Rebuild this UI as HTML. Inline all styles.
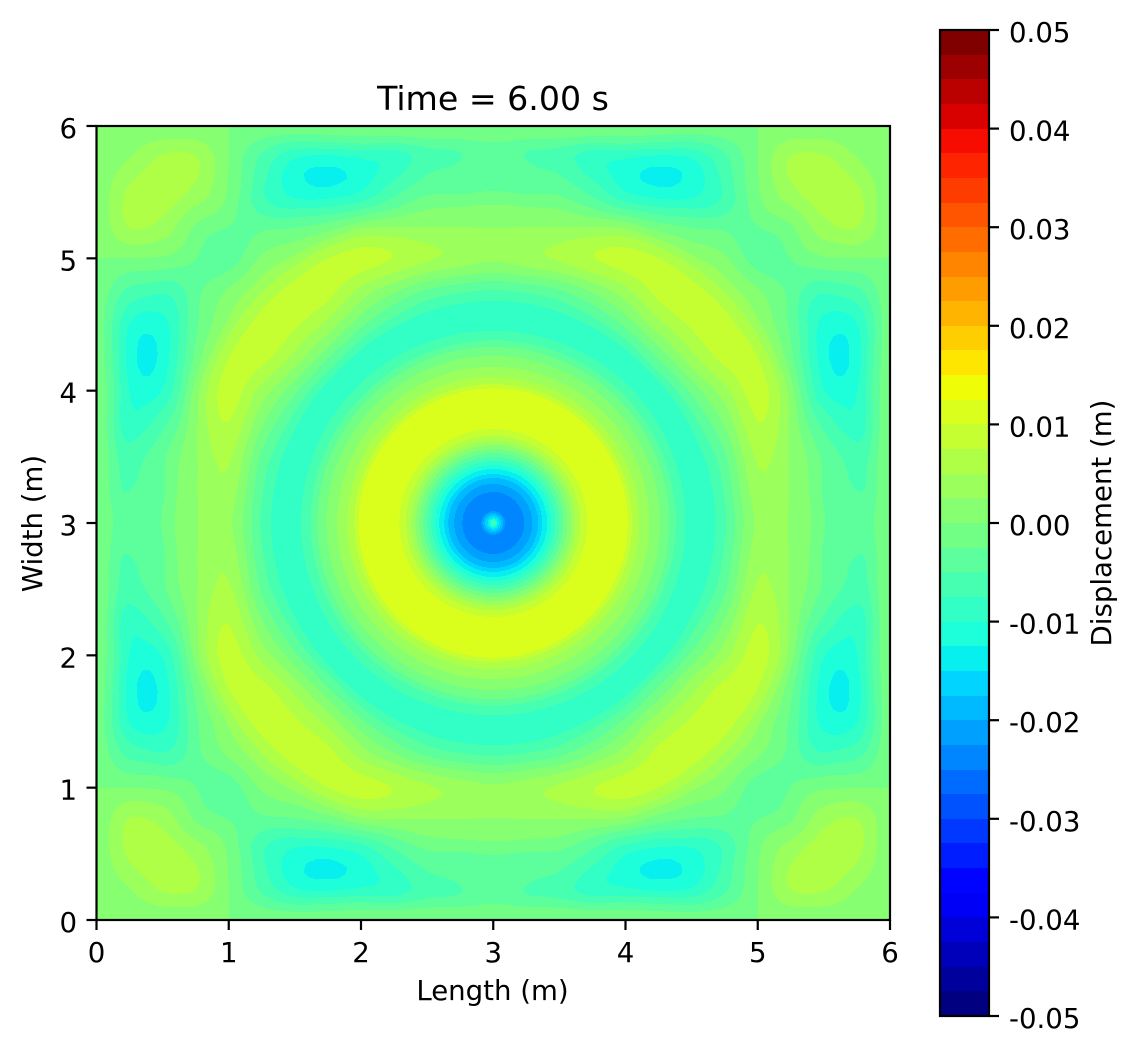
<!DOCTYPE html>
<html>
<head>
<meta charset="utf-8">
<title>Time = 6.00 s</title>
<style>
html,body{margin:0;padding:0;background:#fff;}
svg{display:block;}
text{font-family:"DejaVu Sans","Liberation Sans",sans-serif;fill:#000;}
</style>
</head>
<body>
<svg id="figure" xmlns="http://www.w3.org/2000/svg" width="1139" height="1053" viewBox="0 0 1139 1053">
  <rect x="0" y="0" width="1139" height="1053" fill="#fff"/>
  <g id="bands" shape-rendering="crispEdges"></g>
  <rect x="96.5" y="126" width="793.5" height="794" fill="none" stroke="#000" stroke-width="2.2"/>
  <g id="axisTicks"></g>
  <text x="493" y="110" font-size="33.2" text-anchor="middle">Time = 6.00 s</text>
  <text x="492.5" y="1000" font-size="27.6" text-anchor="middle">Length (m)</text>
  <text transform="translate(42 523.5) rotate(-90)" font-size="27.6" text-anchor="middle">Width (m)</text>
  <g id="colorbar" shape-rendering="crispEdges"></g>
  <rect x="940" y="30" width="49" height="986" fill="none" stroke="#000" stroke-width="2.2"/>
  <g id="cbTicks"></g>
  <text transform="translate(1111 523) rotate(-90)" font-size="27.6" text-anchor="middle">Displacement (m)</text>
</svg>
<script>
// ---- chart data ----
var xTickValues = [0, 1, 2, 3, 4, 5, 6];
var yTickValues = [0, 1, 2, 3, 4, 5, 6];
var colorbarTickValues = [0.05, 0.04, 0.03, 0.02, 0.01, 0.00, -0.01, -0.02, -0.03, -0.04, -0.05];
var colorbarTickLabels = ["0.05", "0.04", "0.03", "0.02", "0.01", "0.00", "-0.01", "-0.02", "-0.03", "-0.04", "-0.05"];
var levelMin = -0.05;
var levelMax = 0.05;
var levelCount = 40;

// Ring displacement (millimetres) by radius from the plate centre (metres)
var radialRadius = [0, 0.015, 0.03, 0.06, 0.09, 0.15, 0.234, 0.295, 0.34, 0.37, 0.408, 0.438, 0.469, 0.5, 0.529, 0.559, 0.59, 0.62, 0.658, 0.71, 0.877, 1.017, 1.05, 1.104, 1.18, 1.262, 1.33, 1.38, 1.455, 1.557, 1.64, 1.69, 1.76, 1.83, 1.90, 1.99, 2.09, 2.25, 2.40, 2.465, 2.54, 2.66, 2.79, 2.88, 3.0, 3.18, 4.3];
var radialDisplacement = [-3, -8, -13, -17.5, -22.5, -24.5, -22.5, -20, -17.5, -15, -12.5, -10, -7.5, -5, -2.5, 0, 2.5, 5, 7.5, 10, 12, 10, 7.5, 5, 2.5, 0, -2.5, -5, -7.5, -9, -7.5, -5, -2.5, 0, 2.5, 5, 7.5, 9.5, 7.5, 5, 2.5, 0, -2.5, -4, -3, 0, 0];

// Deviation from the rings (millimetres) on the lower-left quadrant, every 0.25 m; the plate mirrors about x=3 and y=3
var gridStep = 0.25;
var quadrantDeviation = [
  [0, 0, 0, 0, 0, 0, 0, 0, 0, 0, 0, 0, 0],
  [0, 2.6, 5.5, 5.2, 0, -5.7, -9.3, -8.5, -6.5, -5.8, -3.6, -3.1, -1.8],
  [0, 5.5, 6.5, 4.2, -0.2, -5, -7.2, -9, -9.2, -6.8, -5.5, -6.4, -6.2],
  [0, 5.2, 4.2, 0.1, 0.3, 0, -2.2, -3.6, -4, -5.7, -6.5, -6.7, -6.7],
  [0, 0, -0.2, 0.3, -0.9, 0.3, -0.7, -0.5, -0.4, -0.7, -1.3, -1.6, -2.2],
  [0, -5.7, -5, 0, 0.3, 0, -0.1, 0.1, -1.6, -2.2, -2.6, -2.4, -2.5],
  [0, -9.3, -7.2, -2.2, -0.7, -0.1, 0.1, 0.1, -0.9, -1, -0.8, -0.5, -0.3],
  [0, -8.5, -9, -3.6, -0.5, 0.1, 0.1, 0, -0.3, 0, 0, 0, 0],
  [0, -6.5, -9.2, -4, -0.4, -1.6, -0.9, -0.3, 0, 0, 0, 0, 0],
  [0, -5.8, -6.8, -5.7, -0.7, -2.2, -1, 0, 0, 0, 0, 0, 0],
  [0, -3.6, -5.5, -6.5, -1.3, -2.6, -0.8, 0, 0, 0, 0, 0, 0],
  [0, -3.1, -6.4, -6.7, -1.6, -2.4, -0.5, 0, 0, 0, 0, 0, 0],
  [0, -1.8, -6.2, -6.7, -2.2, -2.5, -0.3, 0, 0, 0, 0, 0, 0]
];

// ---- scales ----
var NS = "http://www.w3.org/2000/svg";
var plotLeft = 96.5, plotRight = 890, plotTop = 126, plotBottom = 920;
var cbLeft = 940, cbRight = 989, cbTop = 30, cbBottom = 1016;
function xScale(v) { return plotLeft + (v / 6) * (plotRight - plotLeft); }
function yScale(v) { return plotBottom - (v / 6) * (plotBottom - plotTop); }
function cbScale(v) { return cbBottom - ((v - levelMin) / (levelMax - levelMin)) * (cbBottom - cbTop); }

function seg(p, t) {
  for (var i = 1; i < p.length; i++) {
    if (t <= p[i][0]) {
      var a = p[i - 1], b = p[i];
      return a[1] + (b[1] - a[1]) * (t - a[0]) / (b[0] - a[0]);
    }
  }
  return p[p.length - 1][1];
}
function jet(t) {
  var r = seg([[0, 0], [0.35, 0], [0.66, 1], [0.89, 1], [1, 0.5]], t);
  var g = seg([[0, 0], [0.125, 0], [0.375, 1], [0.64, 1], [0.91, 0], [1, 0]], t);
  var b = seg([[0, 0.5], [0.11, 1], [0.34, 1], [0.65, 0], [1, 0]], t);
  return "rgb(" + Math.round(r * 255) + "," + Math.round(g * 255) + "," + Math.round(b * 255) + ")";
}

// ---- field ----
function gridAt(i, j) {
  var si = 1, sj = 1;
  if (i < 0) { i = -i; si = -1; }
  if (j < 0) { j = -j; sj = -1; }
  if (i > 12) { i = 24 - i; }
  if (j > 12) { j = 24 - j; }
  return si * sj * quadrantDeviation[j][i];
}
function cubic(p0, p1, p2, p3, t) {
  return 0.5 * (2 * p1 + (p2 - p0) * t + (2 * p0 - 5 * p1 + 4 * p2 - p3) * t * t + (3 * p1 - p0 - 3 * p2 + p3) * t * t * t);
}
function gridValue(x, y) {
  var fx = x / gridStep, fy = y / gridStep;
  var i = Math.min(11, Math.floor(fx)), j = Math.min(11, Math.floor(fy));
  var tx = fx - i, ty = fy - j;
  var rows = [];
  for (var m = -1; m <= 2; m++) {
    rows.push(cubic(gridAt(i - 1, j + m), gridAt(i, j + m), gridAt(i + 1, j + m), gridAt(i + 2, j + m), tx));
  }
  return cubic(rows[0], rows[1], rows[2], rows[3], ty);
}
function radialValue(r) {
  var n = radialRadius.length;
  if (r >= radialRadius[n - 1]) return radialDisplacement[n - 1];
  for (var k = 1; k < n; k++) {
    if (r <= radialRadius[k]) {
      var t = (r - radialRadius[k - 1]) / (radialRadius[k] - radialRadius[k - 1]);
      return radialDisplacement[k - 1] + t * (radialDisplacement[k] - radialDisplacement[k - 1]);
    }
  }
  return 0;
}
function ringValue(r) {
  if (r < 1.7) return radialValue(r);
  // soften the joints of the profile away from the central rings
  return (radialValue(r - 0.05) + radialValue(r) + radialValue(r + 0.05)) / 3;
}
function field(x, y) {
  var qx = Math.min(x, 6 - x), qy = Math.min(y, 6 - y);
  var r = Math.sqrt((3 - qx) * (3 - qx) + (3 - qy) * (3 - qy));
  var ring = ringValue(r);
  if (r <= 1.35) return ring;
  var e = Math.min(1, Math.min(qx, qy) / 0.25);
  var edge = e * e * (3 - 2 * e);
  var w = Math.min(1, (r - 1.35) / 0.25);
  w = w * w * (3 - 2 * w);
  return ring * edge + w * gridValue(qx, qy);
}
function bandOf(mm) {
  var b = Math.floor((mm / 1000 - levelMin) / ((levelMax - levelMin) / levelCount));
  return Math.max(0, Math.min(levelCount - 1, b));
}

// ---- draw contour bands ----
var bandsGroup = document.getElementById("bands");
var bandPaths = [];
for (var b = 0; b < levelCount; b++) bandPaths.push([]);
var x0 = Math.round(plotLeft), x1 = Math.round(plotRight);
var y0 = Math.round(plotTop), y1 = Math.round(plotBottom);
for (var py = y0; py < y1; py++) {
  var dataY = (plotBottom - (py + 0.5)) / (plotBottom - plotTop) * 6;
  var runStart = x0, runBand = -1;
  for (var px = x0; px <= x1; px++) {
    var cur = -2;
    if (px < x1) {
      var dataX = (px + 0.5 - plotLeft) / (plotRight - plotLeft) * 6;
      dataX = Math.max(0, Math.min(6, dataX));
      cur = bandOf(field(dataX, dataY));
    }
    if (cur !== runBand) {
      if (runBand >= 0) {
        bandPaths[runBand].push("M" + runStart + " " + py + "h" + (px - runStart) + "v1h" + (runStart - px) + "z");
      }
      runStart = px;
      runBand = cur;
    }
  }
}
for (var b2 = 0; b2 < levelCount; b2++) {
  if (!bandPaths[b2].length) continue;
  var bandPath = document.createElementNS(NS, "path");
  bandPath.setAttribute("d", bandPaths[b2].join(""));
  bandPath.setAttribute("fill", jet(b2 / (levelCount - 1)));
  
  
  bandsGroup.appendChild(bandPath);
}

// ---- draw ticks ----
function addLine(parent, x1v, y1v, x2v, y2v) {
  var l = document.createElementNS(NS, "line");
  l.setAttribute("x1", x1v);
  l.setAttribute("y1", y1v);
  l.setAttribute("x2", x2v);
  l.setAttribute("y2", y2v);
  l.setAttribute("stroke", "#000");
  l.setAttribute("stroke-width", "2.2");
  parent.appendChild(l);
  return l;
}
function addText(parent, x, y, str, anchor) {
  var t = document.createElementNS(NS, "text");
  t.setAttribute("x", x);
  t.setAttribute("y", y);
  t.setAttribute("font-size", "27.6");
  t.setAttribute("text-anchor", anchor);
  t.textContent = str;
  parent.appendChild(t);
  return t;
}
var axisGroup = document.getElementById("axisTicks");
xTickValues.forEach(function (v) {
  var tick = addLine(axisGroup, xScale(v), plotBottom, xScale(v), plotBottom + 10);
  
  
  var label = addText(axisGroup, xScale(v), 962, String(v), "middle");
  
  
});
yTickValues.forEach(function (v) {
  var tick = addLine(axisGroup, plotLeft - 10, yScale(v), plotLeft, yScale(v));
  
  
  var label = addText(axisGroup, 77, yScale(v) + 12, String(v), "end");
  
  
});

// ---- draw colorbar ----
var cbGroup = document.getElementById("colorbar");
var levelStep = (levelMax - levelMin) / levelCount;
for (var c = 0; c < levelCount; c++) {
  var bandLow = levelMin + c * levelStep;
  var bandHigh = bandLow + levelStep;
  var swatch = document.createElementNS(NS, "rect");
  var swatchTop = Math.round(cbScale(bandHigh));
  var swatchBottom = Math.round(cbScale(bandLow));
  swatch.setAttribute("x", cbLeft);
  swatch.setAttribute("y", swatchTop);
  swatch.setAttribute("width", cbRight - cbLeft);
  swatch.setAttribute("height", swatchBottom - swatchTop);
  swatch.setAttribute("fill", jet(c / (levelCount - 1)));
  
  
  cbGroup.appendChild(swatch);
}
var cbTickGroup = document.getElementById("cbTicks");
colorbarTickValues.forEach(function (v, i) {
  var tick = addLine(cbTickGroup, cbRight, cbScale(v), cbRight + 10, cbScale(v));
  
  
  var label = addText(cbTickGroup, 1009, cbScale(v) + 12, colorbarTickLabels[i], "start");
  
  
});
</script>
</body>
</html>
